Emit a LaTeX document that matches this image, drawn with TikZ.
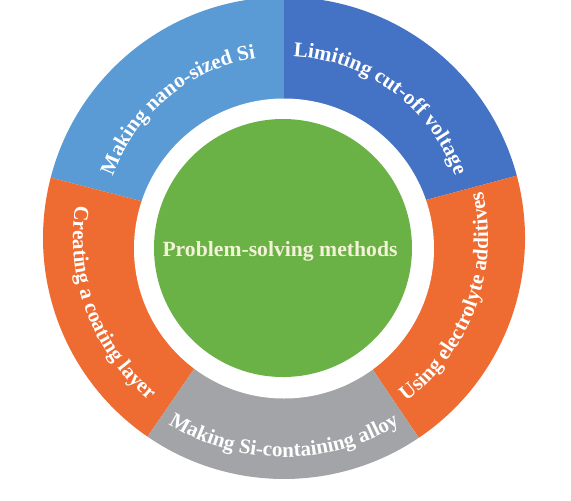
\documentclass[tikz,border=0pt]{standalone}
\usepackage{fontspec}
\setmainfont{Liberation Serif}
\usetikzlibrary{decorations.text}
\definecolor{nanoblue}{RGB}{91,155,213}
\definecolor{voltblue}{RGB}{68,114,196}
\definecolor{ringorange}{RGB}{238,108,50}
\definecolor{alloygray}{RGB}{163,164,168}
\definecolor{coregreen}{RGB}{106,177,70}
\definecolor{corecream}{RGB}{242,242,215}
\newcommand{\ringfont}{\fontsize{18}{20}\selectfont\bfseries\color{white}}
\tikzset{
  ringlabel/.style={decorate,
    decoration={text along path, text align=center, text={|\ringfont|#1}}}
}

\begin{document}
\begin{tikzpicture}[scale=3]
        \useasboundingbox (-2.84,-2.62) rectangle (2.87,2.38);
        \foreach \a/\b/\c in {90/165.5/nanoblue, 15/90/voltblue, -56/15/ringorange,
                              165.5/235.5/ringorange, 235.5/304/alloygray}{
            \fill[\c] (0,0) -- (\a:2.41) arc (\a:\b:2.41) -- cycle;}
        \fill[white] (0,-0.105) circle (1.50);
        \fill[coregreen] (-0.01,-0.10) circle (1.29);
        \node[corecream,font=\fontsize{18.5}{20}\selectfont\bfseries,inner sep=0pt] (core) at (-0.04,-0.13) {Problem-solving methods};
        % labels along the ring
        \path[ringlabel={Making nano-sized Si}] (169.5:1.82) arc (169.5:89.5:1.82);
        \path[ringlabel={Limiting cut-off voltage}] (93.5:1.82) arc (93.5:13.5:1.82);
        \path[ringlabel={Using electrolyte additives}] (-60:2.04) arc (-60:20:2.04);
        \path[ringlabel={Creating a coating layer}] (160.7:2.11) arc (160.7:240.7:2.11);
        \path[ringlabel={Making Si-containing alloy}] (230:2.19) arc (230:310:2.19);
      \end{tikzpicture}
\end{document}
